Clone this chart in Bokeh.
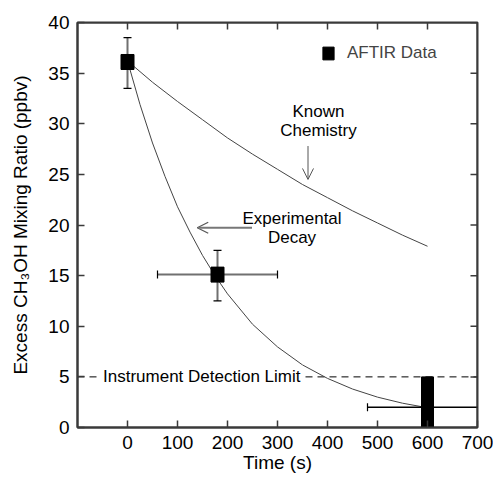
from bokeh.plotting import figure
from bokeh.models import FixedTicker, Range1d, Arrow, OpenHead, Legend, LegendItem, Span
from bokeh.core.properties import value
from bokeh.embed import file_html
from bokeh.resources import INLINE

FONT = "Liberation Sans"

# ---- data ----
x_ticks = [0, 100, 200, 300, 400, 500, 600, 700]
y_ticks = [0, 5, 10, 15, 20, 25, 30, 35, 40]

# AFTIR data points (squares) with vertical error bars
pts_time = [0, 180]
pts_ratio = [36.1, 15.1]
pts_ratio_lo = [33.5, 12.5]
pts_ratio_hi = [38.5, 17.5]

# horizontal (time) error bars
herr_ratio = [15.1, 2.0]
herr_lo = [60, 480]
herr_hi = [300, 720]
hcap_time = [60, 300, 480]
hcap_ratio = [15.1, 15.1, 2.0]

# last point: below the detection limit (upper-limit bar)
limit_time = [600]
limit_top = [5.0]
detection_limit = 5.0

# Known chemistry curve
known_t = [0, 50, 100, 150, 200, 250, 300, 350, 400, 450, 500, 550, 600]
known_v = [36.2, 34.1, 32.2, 30.4, 28.6, 27.0, 25.5, 24.0, 22.7, 21.4, 20.2, 19.0, 17.9]

# Experimental decay curve
exp_t = [0, 25, 50, 75, 100, 125, 150, 175, 200, 250, 300, 350, 400, 450, 500, 550, 600]
exp_v = [36.2, 31.9, 28.1, 24.8, 21.8, 19.3, 17.0, 15.0, 13.2, 10.2, 7.96, 6.18, 4.85, 3.8, 3.0, 2.4, 1.95]

# annotation positions (data units)
known_label = (382, 30.3)
known_arrow = (361, 27.8, 361, 24.5)
exp_label = (329, 19.75)
exp_arrow = (249, 19.73, 139.5, 19.73)
limit_label_x = -53

X_MIN, X_MAX = -100, 700
Y_MIN, Y_MAX = 0, 40
FRAME_W, FRAME_H = 400, 405
TICK_PX = 7

AXIS_COLOR = "#3a3a3a"
CURVE_COLOR = "#444444"
BAR_COLOR = "#707070"

p = figure(frame_width=FRAME_W, frame_height=FRAME_H,
           min_border_left=77, min_border_right=16, min_border_top=22, min_border_bottom=53,
           x_range=Range1d(X_MIN, X_MAX), y_range=Range1d(Y_MIN, Y_MAX),
           output_backend="svg", toolbar_location=None,
           x_axis_label="Time (s)", y_axis_label="Excess CH\u2083OH Mixing Ratio (ppbv)")
p.outline_line_color = AXIS_COLOR
p.outline_line_width = 2
p.grid.visible = False
p.background_fill_color = "white"
p.border_fill_color = "white"

def style_axis(ax, ticks):
    ax.ticker = FixedTicker(ticks=ticks)
    ax.axis_line_color = AXIS_COLOR
    ax.axis_line_width = 2
    ax.major_tick_line_color = AXIS_COLOR
    ax.major_tick_line_width = 1.5
    ax.major_tick_in = TICK_PX
    ax.major_tick_out = 0
    ax.minor_tick_line_color = None
    ax.major_label_text_font = FONT
    ax.major_label_text_color = "black"
    ax.major_label_text_font_size = "19px"
    ax.axis_label_text_font = FONT
    ax.axis_label_text_font_size = "19px"
    ax.axis_label_text_font_style = "normal"
    ax.axis_label_text_color = "black"

xa = p.xaxis[0]
ya = p.yaxis[0]
style_axis(xa, x_ticks)
style_axis(ya, y_ticks)
xa.major_label_standoff = 8
xa.axis_label_standoff = 0
ya.major_label_standoff = 8
ya.axis_label_standoff = 14

# top and right frame edges with inward tick marks
p.add_layout(Span(location=Y_MAX, dimension="width", line_color=AXIS_COLOR, line_width=2))
p.add_layout(Span(location=X_MAX, dimension="height", line_color=AXIS_COLOR, line_width=2))
tick_dy = TICK_PX * (Y_MAX - Y_MIN) / FRAME_H
tick_dx = TICK_PX * (X_MAX - X_MIN) / FRAME_W
p.segment(x0=x_ticks, y0=[Y_MAX] * len(x_ticks), x1=x_ticks,
          y1=[Y_MAX - tick_dy] * len(x_ticks), line_color=AXIS_COLOR, line_width=1.5)
p.segment(x0=[X_MAX] * len(y_ticks), y0=y_ticks, x1=[X_MAX - tick_dx] * len(y_ticks),
          y1=y_ticks, line_color=AXIS_COLOR, line_width=1.5)

# detection limit dashed line
span = Span(location=detection_limit, dimension="width", line_color="black",
            line_width=1, line_dash="7 5", level="underlay")
p.add_layout(span)

# curves
p.line(known_t, known_v, line_color=CURVE_COLOR, line_width=1)
p.line(exp_t, exp_v, line_color=CURVE_COLOR, line_width=1)

# vertical error bars
p.segment(x0=pts_time, y0=pts_ratio_lo, x1=pts_time, y1=pts_ratio_hi,
          line_color=BAR_COLOR, line_width=2)
p.scatter(x=pts_time + pts_time, y=pts_ratio_lo + pts_ratio_hi, marker="dash",
          size=8, line_color="black", line_width=1.2)

# horizontal error bars
p.segment(x0=herr_lo[:1], y0=herr_ratio[:1], x1=herr_hi[:1], y1=herr_ratio[:1],
          line_color=BAR_COLOR, line_width=2)
p.segment(x0=herr_lo[1:], y0=herr_ratio[1:], x1=herr_hi[1:], y1=herr_ratio[1:],
          line_color="black", line_width=1.3)
p.scatter(x=hcap_time, y=hcap_ratio, marker="dash", angle=1.5707963,
          size=8, line_color="black", line_width=1.2)

# data squares
sq = p.rect(x=pts_time, y=pts_ratio, width=13, height=15,
            width_units="screen", height_units="screen",
            fill_color="black", line_color="black")

# upper-limit bar at last time
p.vbar(x=limit_time, top=limit_top, bottom=0, width=24,
       fill_color="black", line_color="black")

# annotation texts
p.text(x=[known_label[0]], y=[known_label[1]], text=["Known\nChemistry"],
       text_font=value(FONT), text_font_size="17px", text_align="center",
       text_baseline="middle", text_line_height=1.0, text_color="black")
p.text(x=[exp_label[0]], y=[exp_label[1]], text=["Experimental\nDecay"],
       text_font=value(FONT), text_font_size="17px", text_align="center",
       text_baseline="middle", text_line_height=1.0, text_color="black")
p.text(x=[limit_label_x], y=[detection_limit], text=["Instrument Detection Limit"],
       text_font=value(FONT), text_font_size="17px", text_align="left",
       text_baseline="middle", text_color="black",
       background_fill_color="white", padding=2)

# arrows
p.add_layout(Arrow(end=OpenHead(size=11, line_color="#555555", line_width=1),
                   x_start=known_arrow[0], y_start=known_arrow[1],
                   x_end=known_arrow[2], y_end=known_arrow[3],
                   line_color="#555555", line_width=1))
p.add_layout(Arrow(end=OpenHead(size=11, line_color="#555555", line_width=1.2),
                   x_start=exp_arrow[0], y_start=exp_arrow[1],
                   x_end=exp_arrow[2], y_end=exp_arrow[3],
                   line_color="#777777", line_width=2))

# legend
legend = Legend(items=[LegendItem(label="AFTIR Data", renderers=[sq])],
                location=(244, 364), padding=0, margin=0,
                border_line_color=None, background_fill_alpha=0,
                glyph_width=14, glyph_height=16, label_standoff=12,
                label_text_font=FONT, label_text_font_size="17px",
                label_height=20)
p.add_layout(legend)

open("out.html", "w").write(file_html(p, INLINE))
